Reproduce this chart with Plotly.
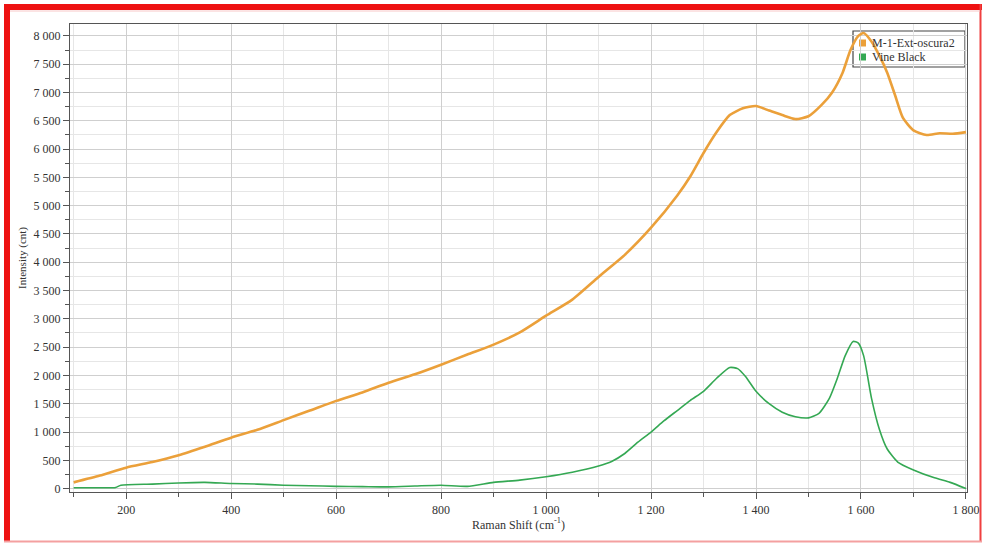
import plotly.graph_objects as go

# ---- data ----
orange_x = [100, 150, 200, 250, 300, 350, 400, 450, 500, 550, 600, 650, 700, 750, 800, 850, 900, 950,
            1000, 1050, 1100, 1150, 1200, 1250, 1275, 1300, 1325, 1350, 1375, 1400, 1425, 1450, 1475,
            1500, 1525, 1545, 1565, 1580, 1595, 1605, 1620, 1635, 1650, 1665, 1680, 1700, 1725, 1750,
            1775, 1800]
orange_y = [110, 230, 370, 470, 590, 740, 900, 1040, 1210, 1380, 1550, 1700, 1870, 2020, 2190, 2370,
            2545, 2760, 3055, 3340, 3740, 4130, 4610, 5180, 5520, 5930, 6300, 6600, 6720, 6760, 6680,
            6600, 6530, 6580, 6780, 7000, 7350, 7750, 8000, 8050, 7900, 7650, 7350, 6950, 6550, 6330,
            6250, 6280, 6270, 6300]

green_x = [100, 150, 180, 190, 250, 300, 350, 400, 450, 500, 550, 600, 650, 700, 750, 800, 850, 900,
           950, 1000, 1050, 1100, 1125, 1150, 1175, 1200, 1225, 1250, 1275, 1300, 1325, 1350, 1365,
           1380, 1400, 1425, 1450, 1475, 1500, 1520, 1540, 1555, 1570, 1585, 1595, 1605, 1620, 1635,
           1650, 1670, 1700, 1740, 1770, 1800]
green_y = [15, 15, 20, 60, 80, 100, 110, 90, 80, 60, 50, 40, 35, 30, 45, 60, 40, 110,
           150, 210, 290, 400, 480, 620, 820, 1000, 1200, 1380, 1560, 1720, 1950, 2140, 2120,
           1980, 1720, 1500, 1350, 1270, 1250, 1330, 1600, 1950, 2350, 2600, 2570, 2350, 1600, 1050,
           700, 470, 330, 190, 110, 0]

series_names = ["M-1-Ext-oscura2", "Vine Black"]
series_colors = ["#EBA03A", "#34A853"]

x_title = "Raman Shift (cm<sup>-1</sup>)"
y_title = "Intensity (cnt)"

SERIF = "Liberation Serif"

fig = go.Figure()
fig.add_trace(go.Scatter(x=orange_x, y=orange_y, mode="lines", name=series_names[0],
                         line=dict(color=series_colors[0], width=2.6, shape="spline", smoothing=0.6),
                         showlegend=False))
fig.add_trace(go.Scatter(x=green_x, y=green_y, mode="lines", name=series_names[1],
                         line=dict(color=series_colors[1], width=1.6, shape="spline", smoothing=0.6),
                         showlegend=False))

W, H = 984, 545
L, R, T, B = 70, 17, 24, 53
pw, ph = W - L - R, H - T - B


def px(x):
    return (x - L) / pw


def py(y):
    return (H - B - y) / ph


shapes = [
    dict(type="rect", xref="paper", yref="paper", x0=px(4), x1=px(982), y0=py(10), y1=py(4),
         fillcolor="#EE1111", line=dict(width=0), layer="above"),
    dict(type="rect", xref="paper", yref="paper", x0=px(4), x1=px(10), y0=py(542), y1=py(4),
         fillcolor="#EE1111", line=dict(width=0), layer="above"),
    dict(type="line", xref="paper", yref="paper", x0=px(980.5), x1=px(980.5), y0=py(542), y1=py(4),
         line=dict(color="#F04040", width=2), layer="above"),
    dict(type="line", xref="paper", yref="paper", x0=px(4), x1=px(982), y0=py(541.5), y1=py(541.5),
         line=dict(color="#F4A0A0", width=2), layer="above"),
    dict(type="line", xref="paper", yref="paper", x0=px(10), x1=px(980), y0=py(11), y1=py(11),
         line=dict(color="#F8C8C8", width=1), layer="above"),
    # legend box (drawn under the curves, as in the reference)
    dict(type="rect", xref="paper", yref="paper", x0=px(853), x1=px(965), y0=py(67), y1=py(31),
         fillcolor="white", line=dict(color="#444444", width=1.2), layer="between"),
]

annotations = []
for i, (name, col) in enumerate(zip(series_names, series_colors)):
    yc = 43 + 14 * i
    shapes.append(dict(type="rect", xref="paper", yref="paper",
                       x0=px(859), x1=px(866), y0=py(yc + 3.5), y1=py(yc - 3.5),
                       fillcolor=col, line=dict(width=0), layer="between"))
    annotations.append(dict(xref="paper", yref="paper", x=px(870), y=py(yc), xanchor="left",
                            yanchor="middle", text=name, showarrow=False,
                            font=dict(family=SERIF, size=12, color="#333333")))

axis_common = dict(
    showline=True, linecolor="#555555", linewidth=1.2, mirror=True,
    ticks="outside", ticklen=6, tickcolor="#555555", tickwidth=1.2,
    showgrid=True, gridcolor="#CFCFCF", gridwidth=1,
    zeroline=False,
    tickfont=dict(family=SERIF, size=12, color="#333333"),
    tickformat=",d",
)

fig.update_xaxes(range=[93, 1802], dtick=200, tick0=0,
                 minor=dict(dtick=100, ticks="outside", ticklen=4, tickcolor="#555555",
                            showgrid=True, gridcolor="#E6E6E6"),
                 title=dict(text=x_title, font=dict(family=SERIF, size=12, color="#333333"), standoff=2),
                 **axis_common)
fig.update_yaxes(range=[-60, 8210], dtick=500, tick0=0,
                 minor=dict(dtick=250, ticks="outside", ticklen=4, tickcolor="#555555",
                            showgrid=True, gridcolor="#E6E6E6"),
                 title=dict(text=y_title, font=dict(family=SERIF, size=11, color="#333333"), standoff=4),
                 **axis_common)

fig.update_layout(
    width=W, height=H,
    margin=dict(l=L, r=R, t=T, b=B, autoexpand=False),
    paper_bgcolor="white", plot_bgcolor="white",
    separators=". ",
    shapes=shapes,
    annotations=annotations,
    showlegend=False,
)

fig.write_html("out.html", config={"displayModeBar": False},
               post_script="document.body.style.margin='0px';document.body.style.overflow='hidden';")
